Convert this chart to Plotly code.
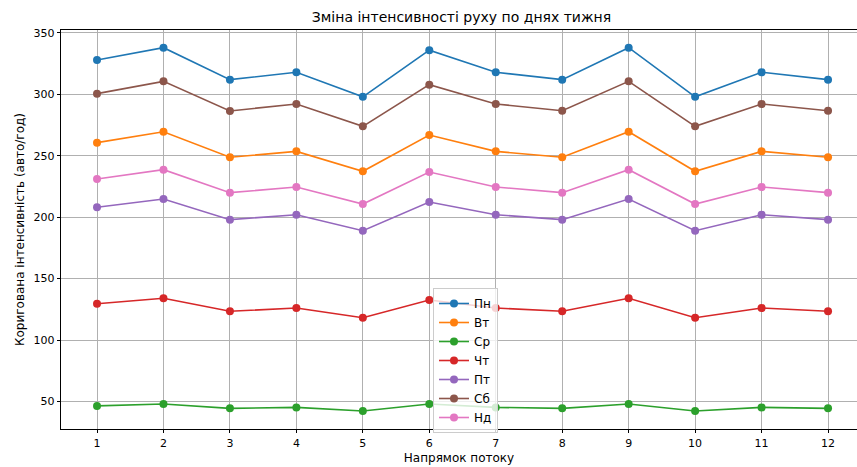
import plotly.graph_objects as go

directions = list(range(1, 13))
days = ["Пн", "Вт", "Ср", "Чт", "Пт", "Сб", "Нд"]
colors = ["#1f77b4", "#ff7f0e", "#2ca02c", "#d62728", "#9467bd", "#8c564b", "#e377c2"]

mon = [328, 338, 312, 318, 298, 336, 318, 312, 338, 298, 318, 312]
tue = [260.7, 269.6, 248.8, 253.6, 237.4, 266.9, 253.6, 248.8, 269.6, 237.4, 253.6, 248.8]
wed = [46.4, 47.9, 44.4, 45.2, 42.2, 47.9, 45.2, 44.4, 47.9, 42.2, 45.2, 44.4]
thu = [129.6, 134.0, 123.4, 126.1, 118.2, 132.6, 126.1, 123.4, 134.0, 118.2, 126.1, 123.4]
fri = [208.1, 214.8, 198.0, 202.0, 189.0, 212.4, 202.0, 198.0, 214.8, 189.0, 202.0, 198.0]
sat = [300.6, 310.6, 286.5, 292.2, 274.0, 307.9, 292.2, 286.7, 310.6, 274.0, 292.2, 286.7]
sun = [231.1, 238.7, 220.0, 224.6, 210.7, 236.8, 224.6, 220.0, 238.7, 210.7, 224.6, 220.0]

series = [mon, tue, wed, thu, fri, sat, sun]

FONT = "DejaVu Sans"

fig = go.Figure()
for name, vals, col in zip(days, series, colors):
    fig.add_trace(go.Scatter(
        x=directions, y=vals, name=name, mode="lines+markers",
        line=dict(color=col, width=1.6),
        marker=dict(color=col, size=8, symbol="circle"),
    ))

fig.update_layout(
    width=857, height=467,
    margin=dict(l=61, r=0, t=30, b=38, autoexpand=False),
    paper_bgcolor="white", plot_bgcolor="white",
    font=dict(family=FONT, size=11, color="#000000"),
    title=dict(text="Зміна інтенсивності руху по днях тижня",
               x=461.5 / 857, xref="container", xanchor="center",
               y=1 - 17 / 467, yref="container", yanchor="middle",
               font=dict(family=FONT, size=14, color="#000000")),
    legend=dict(x=(433 - 61) / 796, y=(429 - 288) / 399, xanchor="left", yanchor="top",
                bgcolor="rgba(255,255,255,0.8)", bordercolor="#cccccc", borderwidth=1,
                font=dict(family=FONT, size=12, color="#000000")),
    showlegend=True,
)

fig.update_xaxes(
    range=[0.458, 12.436], tickvals=directions, ticktext=[str(d) for d in directions],
    showgrid=True, gridcolor="#b0b0b0", gridwidth=0.8, zeroline=False,
    showline=True, linecolor="#000000", linewidth=0.8, mirror=True,
    ticks="outside", ticklen=3.5, tickwidth=0.8, tickcolor="#000000",
    automargin=False,
    title=dict(text="Напрямок потоку", standoff=5, font=dict(family=FONT, size=12)),
)
fig.update_yaxes(
    range=[27.6, 352.4], tickvals=[50, 100, 150, 200, 250, 300, 350],
    showgrid=True, gridcolor="#b0b0b0", gridwidth=0.8, zeroline=False,
    showline=True, linecolor="#000000", linewidth=0.8, mirror=False,
    ticks="outside", ticklen=3.5, tickwidth=0.8, tickcolor="#000000",
    automargin=False,
    title=dict(text="Коригована інтенсивність (авто/год)", standoff=6, font=dict(family=FONT, size=12)),
)

fig.write_html(
    "out.html",
    config={"displayModeBar": False},
    post_script="document.body.style.margin='0';document.body.style.overflow='hidden';"
                "document.documentElement.style.overflow='hidden';",
)
